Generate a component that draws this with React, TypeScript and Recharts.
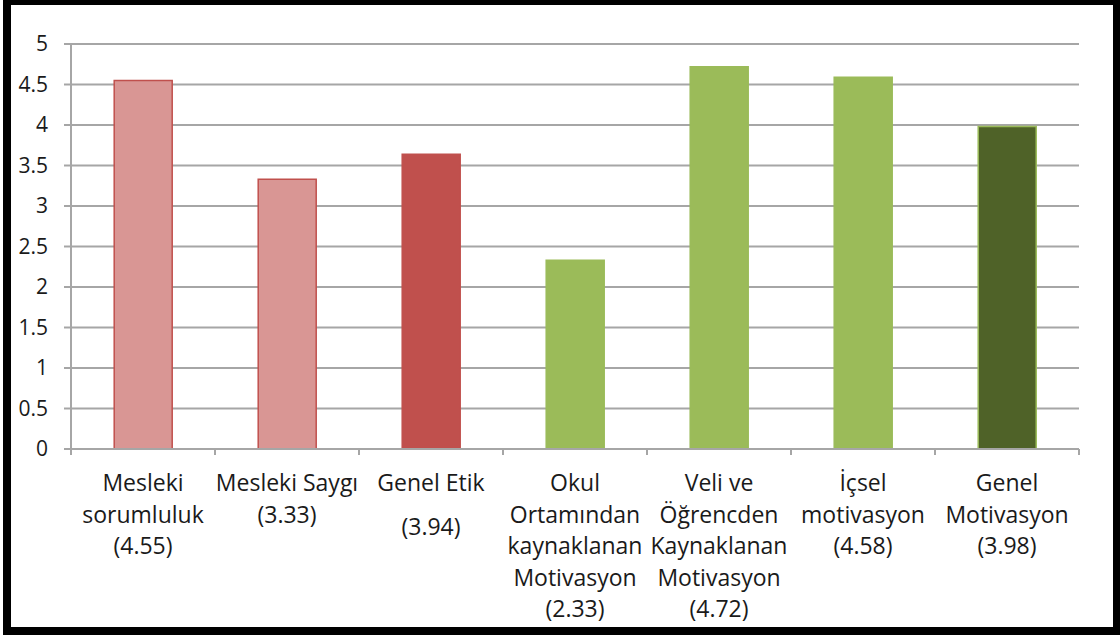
import { BarChart, Bar, XAxis, YAxis, CartesianGrid, Cell } from "recharts";

// category labels, split into the lines shown under the axis
const labelLines: string[][] = [
  ["Mesleki", "sorumluluk", "(4.55)"],
  ["Mesleki Saygı", "(3.33)"],
  ["Genel Etik", "(3.94)"],
  ["Okul", "Ortamından", "kaynaklanan", "Motivasyon", "(2.33)"],
  ["Veli ve", "Öğrencden", "Kaynaklanan", "Motivasyon", "(4.72)"],
  ["İçsel", "motivasyon", "(4.58)"],
  ["Genel", "Motivasyon", "(3.98)"],
];
const categories = labelLines.map((l) => l.join(" "));
const values = [4.55, 3.33, 3.64, 2.33, 4.72, 4.59, 3.98];
const yTicks = [0, 0.5, 1, 1.5, 2, 2.5, 3, 3.5, 4, 4.5, 5];

const fills = ["#D99694", "#D99694", "#C0504D", "#9BBB59", "#9BBB59", "#9BBB59", "#4F6228"];
const strokes = ["#C0504D", "#C0504D", "#C0504D", "#9BBB59", "#9BBB59", "#9BBB59", "#9BBB59"];

const data = categories.map((name, i) => ({ name, value: values[i] }));

const FONT = "'Open Sans', 'Noto Sans', sans-serif";
const AXIS = "#A6A6A6";

const CategoryTick = (props: any) => {
  const { x, y, payload, index, visibleTicksCount } = props;
  const half = payload.offset ?? 72;
  const lines = labelLines[index] ?? [];
  const isEtik = index === 2;
  return (
    <g>
      <line x1={x - half} x2={x - half} y1={y} y2={y + 6} stroke={AXIS} strokeWidth={2} />
      {index === visibleTicksCount - 1 && (
        <line x1={x + half} x2={x + half} y1={y} y2={y + 6} stroke={AXIS} strokeWidth={2} />
      )}
      <text x={x} y={y} textAnchor="middle" fontFamily={FONT} fontSize={23} fill="#1a1a1a">
        {lines.map((t, i) => (
          <tspan key={i} x={x} dy={i === 0 ? 42 : isEtik ? 44 : 31.6}>
            {t}
          </tspan>
        ))}
      </text>
    </g>
  );
};

export default function App() {
  return (
    <div style={{ position: "absolute", left: 0, top: 0, width: 1120, height: 635, background: "#fff" }}>
      <div
        style={{
          position: "absolute",
          left: 3,
          top: 0,
          width: 1117,
          height: 635,
          boxSizing: "border-box",
          borderStyle: "solid",
          borderColor: "#000",
          borderWidth: "5px 7px 8px 8px",
        }}
      />
      <div style={{ position: "absolute", left: 0, top: 0 }}>
        <BarChart
          width={1120}
          height={635}
          data={data}
          margin={{ top: 44, right: 41, bottom: 0, left: 0 }}
          barCategoryGap="30%"
        >
          <CartesianGrid vertical={false} stroke={AXIS} strokeWidth={2} />
          <XAxis
            dataKey="name"
            interval={0}
            tickLine={false}
            tickSize={0}
            tickMargin={0}
            axisLine={{ stroke: AXIS, strokeWidth: 2 }}
            tick={<CategoryTick />}
            height={186}
          />
          <YAxis
            domain={[0, 5]}
            ticks={yTicks}
            interval={0}
            width={71}
            tickSize={7}
            tickMargin={16}
            axisLine={{ stroke: AXIS, strokeWidth: 2 }}
            tickLine={{ stroke: AXIS, strokeWidth: 2 }}
            tick={{ fontFamily: FONT, fontSize: 21, fill: "#1a1a1a" }}
          />
          <Bar dataKey="value" isAnimationActive={false} strokeWidth={1.5}>
            {data.map((d, i) => (
              <Cell key={d.name} fill={fills[i]} stroke={strokes[i]} />
            ))}
          </Bar>
        </BarChart>
      </div>
    </div>
  );
}
